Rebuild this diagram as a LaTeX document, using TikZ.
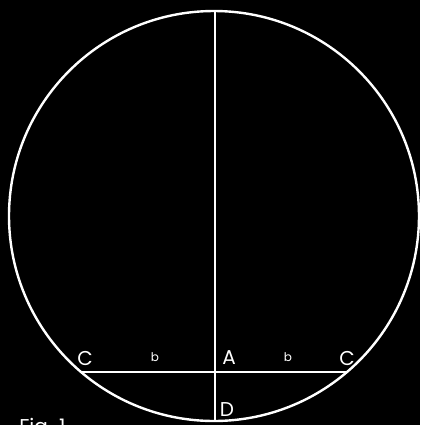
\documentclass[tikz,border=0pt]{standalone}
\usepackage{fontspec}
\setmainfont{Poppins}
\usetikzlibrary{positioning}

\begin{document}
\begin{tikzpicture}[x=0.5pt, y=-0.5pt,
    rim/.style={draw=white, line width=1.2pt, circle, minimum size=205pt, inner sep=0pt},
    line/.style={draw=white, line width=1.1pt},
    lbl/.style={text=white, font=\fontsize{10}{11}\selectfont, inner sep=0pt},
    seg/.style={text=white, font=\fontsize{6}{7}\selectfont, inner sep=0pt},
]
\fill[black] (0,0) rectangle (420,425);
\useasboundingbox (0,0) rectangle (420,425);
\node[rim] (rim) at (214,216) {};
\coordinate (cl) at (81,372);
\coordinate (cr) at (347,372);
\coordinate (top) at (215,11);
\coordinate (bot) at (215,421);
\draw[line] (top) -- (bot);
\draw[line] (cl) -- (cr);
\node[lbl] (c1) at (85,358) {C};
\node[seg] (b1) at (155,357) {b};
\node[lbl] (a) at (229,358) {A};
\node[seg] (b2) at (288,357) {b};
\node[lbl] (c2) at (347,358) {C};
\node[lbl] (d) at (227,410) {D};
\node[lbl, anchor=north west] (fig) at (19,418) {Fig. 1};
\end{tikzpicture}
\end{document}
